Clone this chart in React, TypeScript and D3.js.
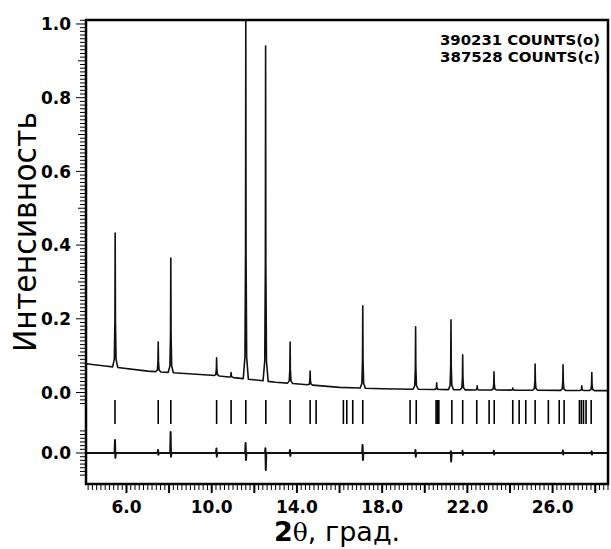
import React from "react";
import * as d3 from "d3";

// ---- data ----
// background of the observed pattern: [2θ, intensity]
const background: [number, number][] = [
  [4.1, 0.078], [5.0, 0.072], [7.0, 0.058], [10.0, 0.047], [13.0, 0.028],
  [16.0, 0.014], [18.0, 0.01], [22.0, 0.007], [28.6, 0.005],
];
// observed peaks: [2θ, top intensity]
const peaks: [number, number][] = [
  [5.47, 0.433], [7.49, 0.137], [8.08, 0.365], [10.23, 0.094], [10.91, 0.054],
  [11.6, 1.03], [12.53, 0.94], [13.68, 0.137], [14.62, 0.058], [17.09, 0.235],
  [19.57, 0.178], [20.56, 0.026], [21.23, 0.197], [21.78, 0.102], [22.46, 0.018],
  [23.25, 0.056], [24.13, 0.012], [25.18, 0.077], [26.49, 0.075], [27.37, 0.018],
  [27.84, 0.054],
];
// reflection positions (tick marks)
const reflections: number[] = [
  5.46, 7.49, 8.08, 10.23, 10.91, 11.6, 12.54, 13.68, 14.62, 14.9, 16.18, 16.34,
  16.62, 17.09, 19.31, 19.6, 20.53, 20.59, 20.66, 21.27, 21.78, 22.44, 23.02,
  23.26, 24.13, 24.43, 24.74, 25.18, 25.8, 26.31, 26.54, 27.26, 27.35, 27.45,
  27.57, 27.81,
];
// difference curve spikes: [2θ, up, down]
const diffSpikes: [number, number, number][] = [
  [5.47, 0.035, 0.013], [7.49, 0.008, 0.005], [8.08, 0.057, 0.01],
  [10.23, 0.012, 0.01], [11.6, 0.027, 0.019], [12.53, 0.013, 0.046],
  [13.68, 0.008, 0.008], [17.09, 0.022, 0.019], [19.57, 0.008, 0.01],
  [21.23, 0.005, 0.023], [21.78, 0.006, 0.005], [23.25, 0.006, 0.004],
  [26.49, 0.007, 0.004], [27.84, 0.005, 0.004],
];
const xTickLabels = [6, 10, 14, 18, 22, 26];
const yTickLabels = [0, 0.2, 0.4, 0.6, 0.8, 1.0];
const countsText = ["390231 COUNTS(o)", "387528 COUNTS(c)"];
const yTitle = "Интенсивность";

const W = 611, H = 549;
const L = 86, R = 608, T = 20, B = 484;
const DIFF_OFFSET = -0.1642;
const MARK_TOP = -0.0204, MARK_BOT = -0.0855;

export default function App() {
  const x = d3.scaleLinear().domain([4.1, 28.6]).range([L, R]);
  const y = d3.scaleLinear().domain([-0.2483, 1.0108]).range([B, T]);
  const bg = d3.scaleLinear().domain(background.map((d) => d[0])).range(background.map((d) => d[1]));

  // observed profile points
  const pts: [number, number][] = [...background];
  peaks.forEach(([p, h]) => {
    const b = bg(p);
    pts.push([p - 0.12, bg(p - 0.12)]);
    pts.push([p - 0.04, b + (h - b) * 0.06]);
    pts.push([p - 0.012, b + (h - b) * 0.35]);
    pts.push([p, h]);
    pts.push([p + 0.012, b + (h - b) * 0.35]);
    pts.push([p + 0.04, b + (h - b) * 0.06]);
    pts.push([p + 0.12, bg(p + 0.12)]);
  });
  pts.sort((a, b) => a[0] - b[0]);
  const line = d3.line<[number, number]>().x((d) => x(d[0])).y((d) => y(d[1]));

  const dpts: [number, number][] = [[4.1, 0], [28.6, 0]];
  diffSpikes.forEach(([p, u, dn]) => {
    dpts.push([p - 0.03, 0], [p - 0.008, u], [p + 0.008, -dn], [p + 0.03, 0]);
  });
  dpts.sort((a, b) => a[0] - b[0]);
  const dline = d3.line<[number, number]>().x((d) => x(d[0])).y((d) => y(d[1] + DIFF_OFFSET));

  // ticks
  const yMinor: number[] = d3.range(-3, 102).map((i) => i / 100);
  const dMinor: number[] = d3.range(-6, 7).map((i) => i / 100);
  const xMinor: number[] = d3.range(Math.ceil(4.1 * 5), Math.floor(28.6 * 5) + 1).map((i) => i / 5);

  const font = "'DejaVu Sans', Verdana, sans-serif";

  return (
    <svg width={W} height={H} style={{ position: "absolute", left: 0, top: 0, background: "#fff" }}>
      <defs>
        <clipPath id="plot">
          <rect x={L} y={T} width={R - L} height={B - T} />
        </clipPath>
      </defs>
      <rect x={0} y={0} width={W} height={H} fill="#fff" />
      {/* y ticks */}
      {yMinor.map((v, i) => {
        const k = Math.round(v * 100);
        const len = k % 20 === 0 ? 10 : k % 10 === 0 ? 8 : 6;
        return <line key={"ym" + i} x1={L - len} x2={L} y1={y(v)} y2={y(v)} stroke="#000" strokeWidth={1} />;
      })}
      {dMinor.map((v, i) => {
        const k = Math.round(v * 100);
        const len = k === 0 ? 10 : 6;
        return <line key={"dm" + i} x1={L - len} x2={L} y1={y(v + DIFF_OFFSET)} y2={y(v + DIFF_OFFSET)} stroke="#000" strokeWidth={1} />;
      })}
      {/* x ticks */}
      {xMinor.map((v, i) => {
        const k = Math.round(v * 5);
        const len = k % 10 === 0 ? 9 : 6;
        return <line key={"xm" + i} x1={x(v)} x2={x(v)} y1={B} y2={B + len} stroke="#000" strokeWidth={k % 10 === 0 ? 2 : 1} />;
      })}
      {/* labels */}
      {yTickLabels.map((v) => (
        <text key={"yl" + v} x={71} y={y(v)} dy="0.36em" textAnchor="end" fontFamily={font} fontWeight="bold" fontSize={17}>
          {v.toFixed(1)}
        </text>
      ))}
      <text x={71} y={y(DIFF_OFFSET)} dy="0.36em" textAnchor="end" fontFamily={font} fontWeight="bold" fontSize={17}>
        {(0).toFixed(1)}
      </text>
      {xTickLabels.map((v) => (
        <text key={"xl" + v} x={x(v)} y={513} textAnchor="middle" fontFamily={font} fontWeight="bold" fontSize={17}>
          {v.toFixed(1)}
        </text>
      ))}
      <text x={274} y={541} fontFamily={font} fontSize={27}>
        <tspan fontWeight="bold">2</tspan>
        <tspan fontFamily="'DejaVu Serif', serif" fontSize={25}>θ</tspan>
        <tspan>, град.</tspan>
      </text>
      <text
        transform={`translate(36,232) rotate(-90)`}
        textAnchor="middle"
        fontFamily={font}
        fontSize={32}
        textLength={240}
        lengthAdjust="spacingAndGlyphs"
      >
        {yTitle}
      </text>
      {countsText.map((t, i) => (
        <text key={t} x={600} y={45 + i * 17} textAnchor="end" fontFamily={font} fontWeight="bold" fontSize={14}
          textLength={160} lengthAdjust="spacingAndGlyphs">
          {t}
        </text>
      ))}
      {/* data */}
      <g clipPath="url(#plot)">
        <path d={line(pts) || ""} fill="none" stroke="#111" strokeWidth={1.6} strokeLinejoin="round" />
        {reflections.map((r, i) => (
          <line key={"r" + i} x1={x(r)} x2={x(r)} y1={y(MARK_TOP)} y2={y(MARK_BOT)} stroke="#000" strokeWidth={1.6} />
        ))}
        <path d={dline(dpts) || ""} fill="none" stroke="#111" strokeWidth={2} strokeLinejoin="round" />
      </g>
      {/* frame */}
      <rect x={L} y={T} width={R - L} height={B - T} fill="none" stroke="#000" strokeWidth={2.5} />
    </svg>
  );
}
